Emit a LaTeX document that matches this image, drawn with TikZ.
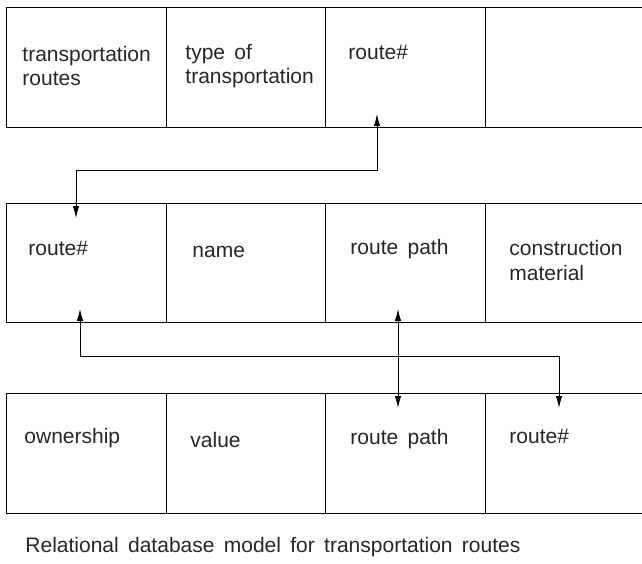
\documentclass[tikz,border=0pt]{standalone}
\usepackage{fontspec}
\setmainfont[WordSpace=1.6]{Liberation Sans}
\usetikzlibrary{arrows.meta}

\tikzset{
  lbl/.style={anchor=base west, inner sep=0pt, align=left, text=black!85},
  link/.style={{Latex[length=12pt,width=6.5pt]}-{Latex[length=12pt,width=6.5pt]}, line width=0.9pt}
}

\begin{document}
\begin{tikzpicture}[x=1pt, y=-1pt, line width=0.9pt, font=\fontsize{21}{24.5}\selectfont]
\useasboundingbox (0,0) rectangle (642,564);

% top table
\draw (648,7)--(6,7)--(6,127)--(648,127);
\draw (166,7)--(166,127);
\draw (325,7)--(325,127);
\draw (485,7)--(485,127);

% middle table
\draw (648,203)--(6,203)--(6,322)--(648,322);
\draw (166,203)--(166,322);
\draw (325,203)--(325,322);
\draw (485,203)--(485,322);

% bottom table
\draw (648,393)--(6,393)--(6,513)--(648,513);
\draw (166,393)--(166,513);
\draw (325,393)--(325,513);
\draw (485,393)--(485,513);

% (base of a two-line label = its last line)
\node[lbl] (troutes) at (22,86) {transportation\\routes};
\node[lbl] (ttype) at (185,84) {type of\\transportation};
\node[lbl] (troute) at (348,60) {route\#};

\node[lbl] (mroute) at (28,255) {route\#};
\node[lbl] (mname) at (192,257) {name};
\node[lbl] (mpath) at (350,254) {route path};
\node[lbl] (mmat) at (509,280) {construction\\material};

\node[lbl] (bown) at (24,443) {ownership};
\node[lbl] (bval) at (190,447) {value};
\node[lbl] (bpath) at (350,444) {route path};
\node[lbl] (broute) at (509,443) {route\#};

\node[lbl] (caption) at (25,552) {Relational database model for transportation routes};

% link ends
\coordinate (tkey) at (377,114);
\coordinate (bend1) at (76,170);
\coordinate (mkey) at (76,218);
\coordinate (mkeyup) at (80,309);
\coordinate (bend2) at (559,356);
\coordinate (bkey) at (559,408);
\coordinate (mpathup) at (398,309);
\coordinate (bpathdn) at (398,408);

\draw[link] (tkey) |- (bend1) -- (mkey);
\draw[link] (mkeyup) |- (bend2) -- (bkey);
\draw[link] (mpathup) -- (bpathdn);

\end{tikzpicture}
\end{document}
